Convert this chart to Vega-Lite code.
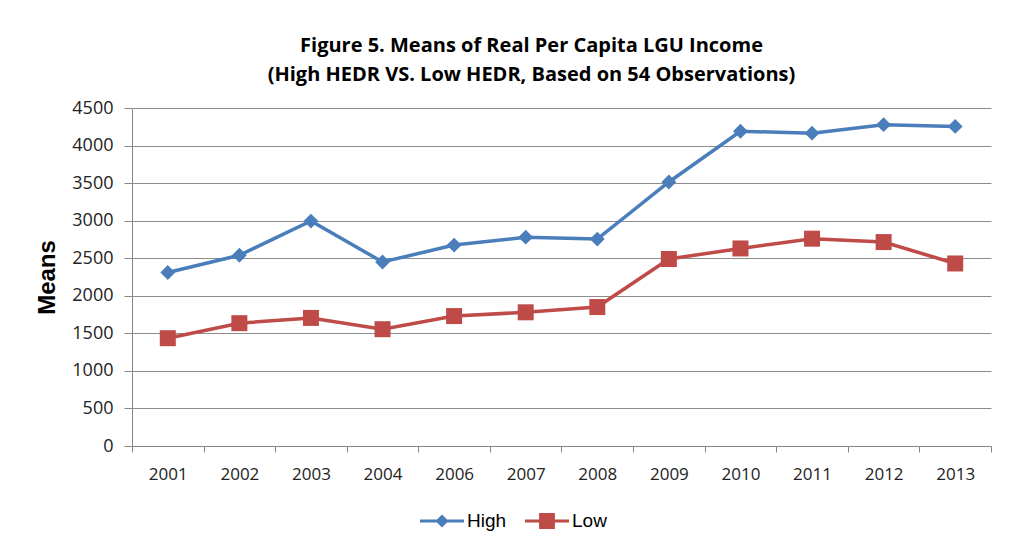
{
  "$schema": "https://vega.github.io/schema/vega-lite/v6.json",
  "autosize": "none",
  "width": 859,
  "height": 338,
  "padding": {"left": 132, "top": 108, "right": 20, "bottom": 98},
  "background": "white",
  "title": {
    "text": ["Figure 5. Means of Real Per Capita LGU Income", "(High HEDR VS. Low HEDR, Based on 54 Observations)"],
    "font": "Open Sans",
    "fontSize": 20,
    "fontWeight": "bold",
    "color": "black",
    "lineHeight": 29,
    "anchor": "middle",
    "dx": -30,
    "offset": 14
  },
  "data": {
    "values": [
      {"year": "2001", "group": "High", "mean": 2310},
      {"year": "2002", "group": "High", "mean": 2540},
      {"year": "2003", "group": "High", "mean": 2995},
      {"year": "2004", "group": "High", "mean": 2450},
      {"year": "2006", "group": "High", "mean": 2675},
      {"year": "2007", "group": "High", "mean": 2780},
      {"year": "2008", "group": "High", "mean": 2755},
      {"year": "2009", "group": "High", "mean": 3515},
      {"year": "2010", "group": "High", "mean": 4190},
      {"year": "2011", "group": "High", "mean": 4165},
      {"year": "2012", "group": "High", "mean": 4278},
      {"year": "2013", "group": "High", "mean": 4255},
      {"year": "2001", "group": "Low", "mean": 1435},
      {"year": "2002", "group": "Low", "mean": 1635},
      {"year": "2003", "group": "Low", "mean": 1705},
      {"year": "2004", "group": "Low", "mean": 1555},
      {"year": "2006", "group": "Low", "mean": 1730},
      {"year": "2007", "group": "Low", "mean": 1780},
      {"year": "2008", "group": "Low", "mean": 1850},
      {"year": "2009", "group": "Low", "mean": 2490},
      {"year": "2010", "group": "Low", "mean": 2630},
      {"year": "2011", "group": "Low", "mean": 2760},
      {"year": "2012", "group": "Low", "mean": 2715},
      {"year": "2013", "group": "Low", "mean": 2430}
    ]
  },
  "encoding": {
    "x": {
      "field": "year",
      "type": "ordinal",
      "scale": {"type": "band", "paddingInner": 0, "paddingOuter": 0},
      "axis": {
        "title": null,
        "labelAngle": 0,
        "tickBand": "extent",
        "grid": false,
        "domainColor": "#868686",
        "tickColor": "#868686",
        "tickSize": 6,
        "labelPadding": 14,
        "labelFont": "Open Sans",
        "labelFontSize": 17,
        "labelColor": "#222222"
      }
    },
    "y": {
      "field": "mean",
      "type": "quantitative",
      "scale": {"domain": [0, 4500], "nice": false},
      "axis": {
        "title": "Means",
        "titleFont": "Liberation Sans",
        "titleFontSize": 24,
        "titleFontWeight": "bold",
        "titleColor": "black",
        "titlePadding": 12,
        "format": "d",
        "values": [0, 500, 1000, 1500, 2000, 2500, 3000, 3500, 4000, 4500],
        "grid": true,
        "gridColor": "#8c8c8c",
        "gridWidth": 1,
        "domainColor": "#868686",
        "tickColor": "#868686",
        "tickSize": 8,
        "labelPadding": 11,
        "labelFont": "Open Sans",
        "labelFontSize": 18,
        "labelColor": "#222222"
      }
    },
    "color": {
      "field": "group",
      "type": "nominal",
      "scale": {"domain": ["High", "Low"], "range": ["#4A7EBB", "#BE4B48"]},
      "legend": {
        "title": null,
        "orient": "none",
        "legendX": 288,
        "legendY": 391,
        "direction": "horizontal",
        "symbolSize": 1936,
        "labelFont": "Liberation Sans",
        "labelFontSize": 19,
        "labelColor": "black",
        "labelOffset": 3,
        "columnPadding": 18,
        "encode": {
          "symbols": {
            "update": {
              "shape": {"signal": "datum.value === 'High' ? 'M-1,-0.07H1V0.07H-1Z M0,-0.3L0.3,0L0,0.3L-0.3,0Z' : 'M-1,-0.07H1V0.07H-1Z M-0.36,-0.36H0.36V0.36H-0.36Z'"},
              "fill": {"scale": "color", "field": "value"},
              "stroke": {"value": "transparent"},
              "strokeWidth": {"value": 0},
              "opacity": {"value": 1},
              "fillOpacity": {"value": 1}
            }
          }
        }
      }
    }
  },
  "layer": [
    {
      "mark": {"type": "line", "strokeWidth": 3.5}
    },
    {
      "transform": [{"filter": "datum.group === 'High'"}],
      "mark": {"type": "point", "filled": true, "opacity": 1, "shape": "diamond", "size": 220}
    },
    {
      "transform": [{"filter": "datum.group === 'Low'"}],
      "mark": {"type": "point", "filled": true, "opacity": 1, "shape": "square", "size": 256}
    }
  ],
  "config": {
    "view": {"stroke": null}
  }
}
